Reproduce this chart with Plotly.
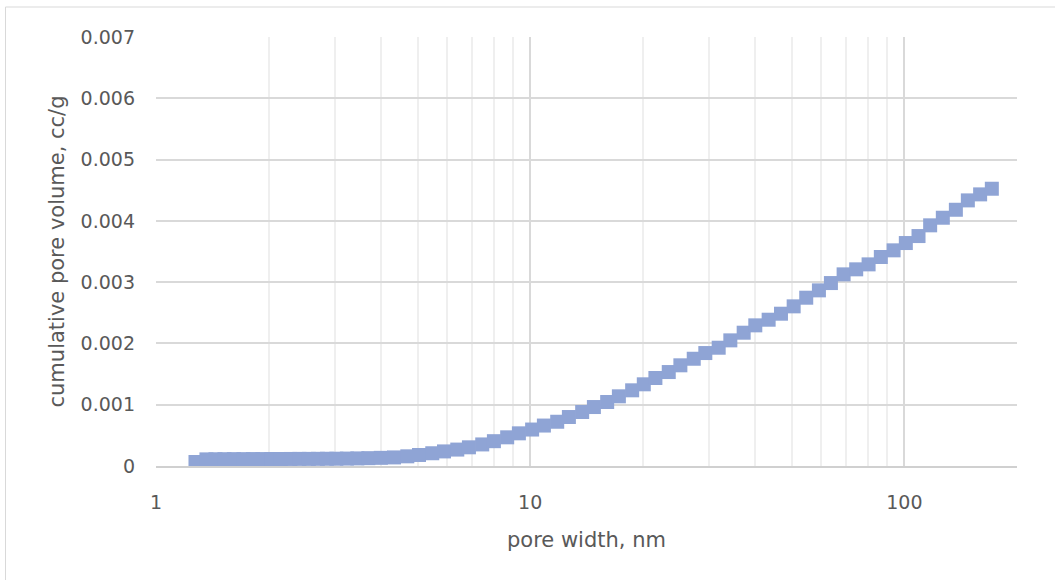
import plotly.graph_objects as go

# Cumulative pore volume versus pore width (log scale)
pore_width_nm = [
    1.275, 1.364, 1.442, 1.524, 1.615, 1.713, 1.816, 1.925, 2.034, 2.157,
    2.287, 2.417, 2.562, 2.708, 2.862, 3.034, 3.237, 3.452, 3.694, 3.988,
    4.326, 4.695, 5.045, 5.474, 5.884, 6.385, 6.860, 7.445, 7.999, 8.680,
    9.329, 10.12, 10.88, 11.81, 12.69, 13.77, 14.80, 16.06, 17.26, 18.73,
    20.12, 21.61, 23.46, 25.20, 27.36, 29.38, 31.90, 34.27, 37.20, 39.96,
    43.38, 46.80, 50.60, 54.67, 59.11, 63.64, 68.81, 74.35, 80.24, 86.52,
    93.59, 100.9, 109.1, 117.2, 126.7, 137.3, 147.8, 159.4, 171.3,
]
cumulative_volume_ccg = [
    0.000065, 0.000108, 0.000110, 0.000111, 0.000112, 0.000112, 0.000113, 0.000113, 0.000114, 0.000114,
    0.000115, 0.000116, 0.000116, 0.000117, 0.000118, 0.000119, 0.000121, 0.000124, 0.000128, 0.000133,
    0.000140, 0.000158, 0.000180, 0.000208, 0.000238, 0.000268, 0.000305, 0.000352, 0.000405, 0.000468,
    0.000533, 0.000595, 0.000660, 0.000722, 0.000799, 0.000881, 0.000962, 0.001044, 0.001137, 0.001235,
    0.001333, 0.001436, 0.001533, 0.001643, 0.001750, 0.001843, 0.001930, 0.002050, 0.002175, 0.002295,
    0.002387, 0.002485, 0.002605, 0.002746, 0.002866, 0.002985, 0.003127, 0.003209, 0.003290, 0.003410,
    0.003519, 0.003638, 0.003752, 0.003927, 0.004051, 0.004181, 0.004334, 0.004432, 0.004524,
]

x_tick_values = [1, 10, 100]
x_tick_labels = ["1", "10", "100"]
y_tick_values = [0, 0.001, 0.002, 0.003, 0.004, 0.005, 0.006, 0.007]
y_tick_labels = ["0", "0.001", "0.002", "0.003", "0.004", "0.005", "0.006", "0.007"]

x_title = "pore width, nm"
y_title = "cumulative pore volume, cc/g"

FONT = "DejaVu Sans"
TEXT = "#595959"
GRID = "#d9d9d9"
MINOR_GRID = "#efefef"
MARKER = "#8fa4d5"

fig = go.Figure(
    go.Scatter(
        x=pore_width_nm,
        y=cumulative_volume_ccg,
        mode="markers",
        marker=dict(symbol="square", size=14, color=MARKER, line=dict(width=0)),
        showlegend=False,
        hoverinfo="x+y",
    )
)

fig.update_layout(
    width=1055,
    height=580,
    margin=dict(l=156, r=38, t=37, b=114, autoexpand=False),
    paper_bgcolor="white",
    plot_bgcolor="white",
    font=dict(family=FONT, size=19, color=TEXT),
    xaxis=dict(
        type="log",
        range=[0, 2.30103],
        tickvals=x_tick_values,
        ticktext=x_tick_labels,
        ticks="",
        showgrid=True,
        gridcolor=GRID,
        gridwidth=1.5,
        minor=dict(showgrid=True, dtick="D1", gridcolor=MINOR_GRID, gridwidth=1.5),
        showline=True,
        linecolor="#d0d0d0",
        linewidth=1.5,
        zeroline=False,
        ticklabelstandoff=18,
        tickfont=dict(family=FONT, size=19, color=TEXT),
    ),
    yaxis=dict(
        range=[0, 0.007],
        tickvals=y_tick_values,
        ticktext=y_tick_labels,
        ticks="",
        showgrid=True,
        gridcolor=GRID,
        gridwidth=1.5,
        zeroline=False,
        showline=False,
        ticklabelstandoff=20,
        tickfont=dict(family=FONT, size=19, color=TEXT),
    ),
    annotations=[
        dict(
            text=x_title, xref="paper", yref="paper", x=0.5, y=-0.1725,
            xanchor="center", yanchor="middle", showarrow=False,
            font=dict(family=FONT, size=21, color=TEXT),
        ),
        dict(
            text=y_title, xref="paper", yref="paper", x=-0.115, y=0.5,
            xanchor="center", yanchor="middle", showarrow=False, textangle=-90,
            font=dict(family=FONT, size=21, color=TEXT),
        ),
    ],
    shapes=[
        dict(
            type="rect", xref="paper", yref="paper",
            x0=-0.1748, x1=1.06, y0=-0.3, y1=1.0699,
            line=dict(color=GRID, width=1), fillcolor="rgba(0,0,0,0)", layer="below",
        )
    ],
)

fig.write_html("out.html")
